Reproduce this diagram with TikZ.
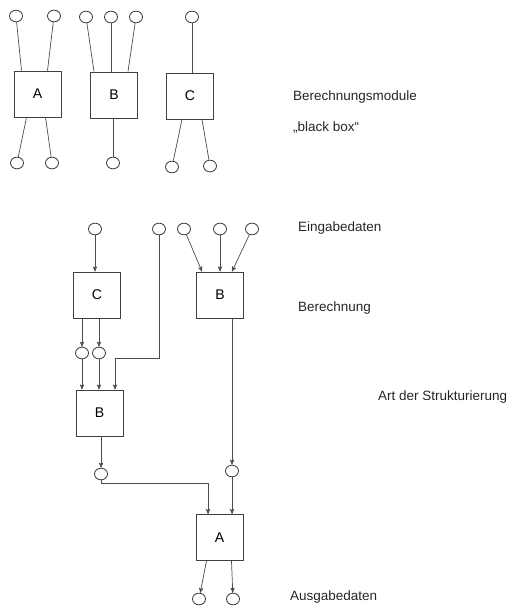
\documentclass[tikz,border=0pt]{standalone}
\usepackage{fontspec}
\setmainfont{Liberation Sans}
\usetikzlibrary{shapes.geometric, arrows, positioning, calc}

\tikzset{
  modul/.style={draw=black!75, line width=0.8pt, minimum width=1.41cm, minimum height=1.38cm, inner sep=0pt, font=\large},
  datum/.style={draw=black!75, line width=0.7pt, ellipse, minimum width=0.39cm, minimum height=0.35cm, inner sep=0pt},
  fluss/.style={draw=black!70, line width=0.6pt},
  pfeil/.style={fluss, ->, >=stealth'},
  beschr/.style={anchor=west, inner xsep=0pt, font=\fontsize{11.5}{13}\selectfont, text=black!85}
}

\begin{document}
\begin{tikzpicture}[x=0.03cm, y=-0.03cm]
  \useasboundingbox (0,0) rectangle (532,610);

  % Berechnungsmodule oben
  \node[modul] (mA) at (37.5,94) {A};
  \node[modul] (mB) at (114,95) {B};
  \node[modul] (mC) at (190,96) {C};

  \node[datum] (ai1) at (16,16) {};
  \node[datum] (ai2) at (54,16) {};
  \node[datum] (ao1) at (17,163) {};
  \node[datum] (ao2) at (52,163) {};
  \node[datum] (bi1) at (86,17) {};
  \node[datum] (bi2) at (111,17) {};
  \node[datum] (bi3) at (136,17) {};
  \node[datum] (bo1) at (113,163) {};
  \node[datum] (ci1) at (192,17) {};
  \node[datum] (co1) at (172,167) {};
  \node[datum] (co2) at (210,166) {};

  \draw[fluss] (ai1) -- ($(mA.north)+(-16,0)$);
  \draw[fluss] (ai2) -- ($(mA.north)+(10,0)$);
  \draw[fluss] ($(mA.south)+(-11,0)$) -- (ao1);
  \draw[fluss] ($(mA.south)+(8,0)$) -- (ao2);
  \draw[fluss] (bi1) -- ($(mB.north)+(-20,0)$);
  \draw[fluss] (bi2) -- (bi2 |- mB.north);
  \draw[fluss] (bi3) -- ($(mB.north)+(14,0)$);
  \draw[fluss] (bo1 |- mB.south) -- (bo1);
  \draw[fluss] (ci1) -- (ci1 |- mC.north);
  \draw[fluss] ($(mC.south)+(-8,0)$) -- (co1);
  \draw[fluss] ($(mC.south)+(12,0)$) -- (co2);

  % Strukturierung unten
  \node[modul] (rC) at (97,295) {C};
  \node[modul] (rB1) at (220,295) {B};
  \node[modul] (rB2) at (99.5,413) {B};
  \node[modul] (rA) at (219.5,537.5) {A};

  \node[datum] (e1) at (95,229) {};
  \node[datum] (e2) at (159,229) {};
  \node[datum] (e3) at (184,229) {};
  \node[datum] (e4) at (220,229) {};
  \node[datum] (e5) at (252,229) {};
  \node[datum] (z1) at (82,353) {};
  \node[datum] (z2) at (99,353) {};
  \node[datum] (z3) at (101,474) {};
  \node[datum] (z4) at (232,471) {};
  \node[datum] (a1) at (199,599) {};
  \node[datum] (a2) at (233,599) {};
  \coordinate (knick1) at (115,358);
  \coordinate (knick2) at (208,483);

  \draw[pfeil] (e1) -- (e1 |- rC.north);
  \draw[pfeil] (e3) -- ($(rB1.north)+(-18,0)$);
  \draw[pfeil] (e4) -- (rB1.north);
  \draw[pfeil] (e5) -- ($(rB1.north)+(12,0)$);
  \draw[pfeil] (z1 |- rC.south) -- (z1);
  \draw[pfeil] (z2 |- rC.south) -- (z2);
  \draw[pfeil] (z1) -- (z1 |- rB2.north);
  \draw[pfeil] (z2) -- (z2 |- rB2.north);
  \draw[pfeil] (e2) |- (knick1) -- (knick1 |- rB2.north);
  \draw[pfeil] (z3 |- rB2.south) -- (z3);
  \draw[pfeil] (z3.south) |- (knick2) -- (knick2 |- rA.north);
  \draw[pfeil] (z4 |- rB1.south) -- (z4);
  \draw[pfeil] (z4) -- (z4 |- rA.north);
  \draw[pfeil] ($(rA.south)+(-13,0)$) -- (a1);
  \draw[pfeil] ($(rA.south)+(12,0)$) -- (a2);

  % Beschriftung
  \node[beschr] (tmod) at (293,97) {Berechnungsmodule};
  \node[beschr] (tbox) at (293,127) {„black box“};
  \node[beschr] (tein) at (298,228) {Eingabedaten};
  \node[beschr] (tber) at (298,308) {Berechnung};
  \node[beschr] (tart) at (378,397) {Art der Strukturierung};
  \node[beschr] (taus) at (290,597) {Ausgabedaten};
\end{tikzpicture}
\end{document}
